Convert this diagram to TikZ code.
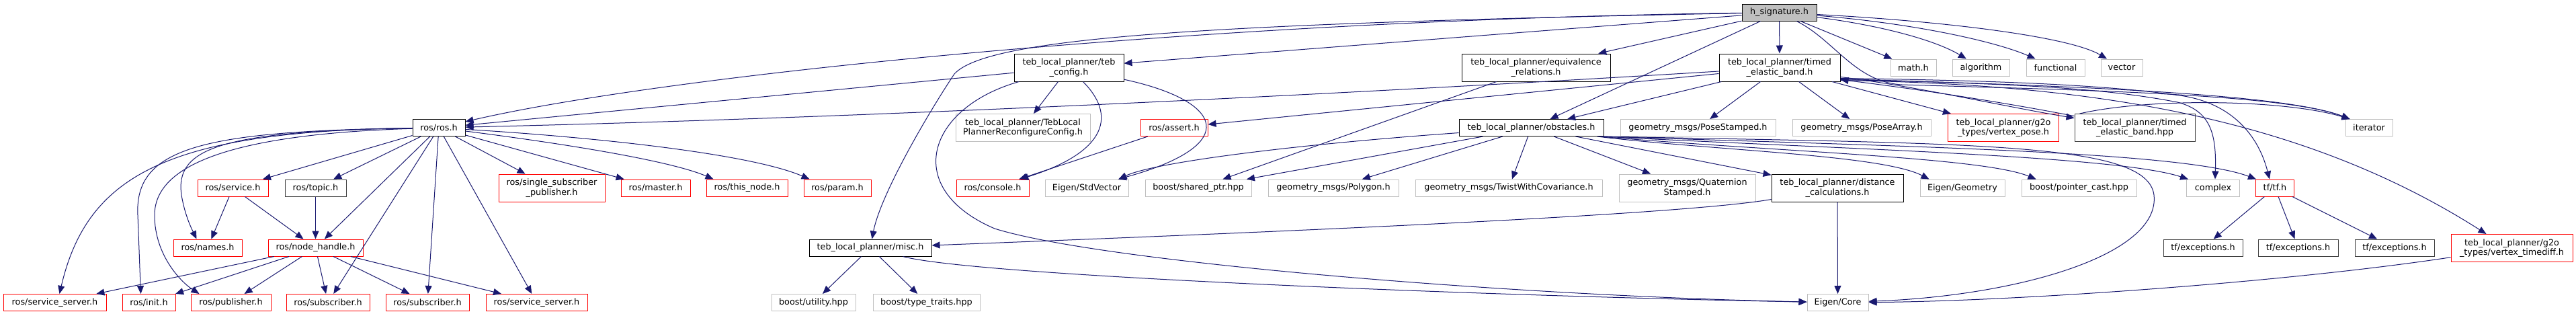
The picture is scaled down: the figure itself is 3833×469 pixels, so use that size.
\documentclass[tikz,border=0pt]{standalone}
\usepackage{fontspec}
\setmainfont{DejaVu Sans}
\usetikzlibrary{arrows.meta}
\definecolor{edgeblue}{HTML}{191970}
\definecolor{greyseventyfive}{HTML}{BFBFBF}
\definecolor{greytwentyfive}{HTML}{404040}
\newcommand\dxfont{\fontsize{12.8}{14.3}\selectfont}
\tikzset{
  nbox/.style={rectangle, draw=black, line width=1pt, fill=white, inner sep=0pt,
    minimum height=25pt, align=center, font=\dxfont, text=black},
  twol/.style={minimum height=41pt},
  gb/.style={draw=greyseventyfive},
  rb/.style={draw=red},
  db/.style={draw=greytwentyfive},
  arr/.style={draw=edgeblue, line width=1pt, -{Triangle[length=12pt,width=10pt]}},
}
\begin{document}
\begin{tikzpicture}[x=1pt,y=-1pt]
\fill[white] (0,0) rectangle (3833,469);
\useasboundingbox (0,0) rectangle (3833,469);

% row 0
\node[nbox, fill=greyseventyfive, minimum width=111pt] (hsig) at (2647.5,18.5) {h\_signature.h};
% row 1
\node[nbox, twol, minimum width=163pt] (tebconfig) at (1590.5,100.5) {teb\_local\_planner/teb\\\_config.h};
\node[nbox, twol, minimum width=221pt] (equiv) at (2285.5,100.5) {teb\_local\_planner/equivalence\\\_relations.h};
\node[nbox, twol, minimum width=180pt] (tebh) at (2648,100.5) {teb\_local\_planner/timed\\\_elastic\_band.h};
\node[nbox, gb, minimum width=68pt] (mathh) at (2847,100.5) {math.h};
\node[nbox, gb, minimum width=85pt] (algo) at (2947.5,100.5) {algorithm};
\node[nbox, gb, minimum width=87pt] (func) at (3058.5,100.5) {functional};
\node[nbox, gb, minimum width=62pt] (vect) at (3157,100.5) {vector};
% row 2
\node[nbox, minimum width=78pt] (ros) at (653,190) {ros/ros.h};
\node[nbox, gb, twol, minimum width=200pt] (reconf) at (1522,190) {teb\_local\_planner/TebLocal\\PlannerReconfigureConfig.h};
\node[nbox, rb, minimum width=100pt] (assert) at (1747,190) {ros/assert.h};
\node[nbox, minimum width=215pt] (obst) at (2278.5,190) {teb\_local\_planner/obstacles.h};
\node[nbox, gb, minimum width=231pt] (posest) at (2526.5,190) {geometry\_msgs/PoseStamped.h};
\node[nbox, gb, minimum width=206pt] (posearr) at (2770,190) {geometry\_msgs/PoseArray.h};
\node[nbox, rb, twol, minimum width=165pt] (vpose) at (2981,190) {teb\_local\_planner/g2o\\\_types/vertex\_pose.h};
\node[nbox, db, twol, minimum width=179pt] (hpp) at (3176.5,190) {teb\_local\_planner/timed\\\_elastic\_band.hpp};
\node[nbox, gb, minimum width=70pt] (iter) at (3525,190) {iterator};
% row 3
\node[nbox, rb, minimum width=105pt] (service) at (346.5,279.5) {ros/service.h};
\node[nbox, db, minimum width=91pt] (topic) at (469.5,279.5) {ros/topic.h};
\node[nbox, rb, twol, minimum width=158pt] (singlesub) at (821,279.5) {ros/single\_subscriber\\\_publisher.h};
\node[nbox, rb, minimum width=103pt] (master) at (975.5,279.5) {ros/master.h};
\node[nbox, rb, minimum width=121pt] (thisnode) at (1111.5,279.5) {ros/this\_node.h};
\node[nbox, rb, minimum width=100pt] (param) at (1246,279.5) {ros/param.h};
\node[nbox, rb, minimum width=108pt] (console) at (1477,279.5) {ros/console.h};
\node[nbox, gb, minimum width=124pt] (stdvec) at (1617,279.5) {Eigen/StdVector};
\node[nbox, gb, minimum width=158pt] (shptr) at (1783,279.5) {boost/shared\_ptr.hpp};
\node[nbox, gb, minimum width=194pt] (polygon) at (1984,279.5) {geometry\_msgs/Polygon.h};
\node[nbox, gb, minimum width=278pt] (twist) at (2245,279.5) {geometry\_msgs/TwistWithCovariance.h};
\node[nbox, gb, twol, minimum width=203pt] (quat) at (2510.5,279.5) {geometry\_msgs/Quaternion\\Stamped.h};
\node[nbox, twol, minimum width=196pt] (distc) at (2734,279.5) {teb\_local\_planner/distance\\\_calculations.h};
\node[nbox, gb, minimum width=126pt] (eigeom) at (2920,279.5) {Eigen/Geometry};
\node[nbox, gb, minimum width=171pt] (ptrcast) at (3093.5,279.5) {boost/pointer\_cast.hpp};
\node[nbox, gb, minimum width=79pt] (complex) at (3293,279.5) {complex};
\node[nbox, rb, minimum width=57pt] (tftf) at (3385,279.5) {tf/tf.h};
% row 4
\node[nbox, rb, minimum width=102pt] (names) at (309,368.5) {ros/names.h};
\node[nbox, rb, minimum width=141pt] (nodeh) at (469.5,368.5) {ros/node\_handle.h};
\node[nbox, minimum width=182pt] (misc) at (1295,368.5) {teb\_local\_planner/misc.h};
\node[nbox, db, minimum width=118pt] (exca) at (3278,368.5) {tf/exceptions.h};
\node[nbox, db, minimum width=119pt] (excb) at (3419.5,368.5) {tf/exceptions.h};
\node[nbox, db, minimum width=118pt] (excc) at (3563,368.5) {tf/exceptions.h};
\node[nbox, rb, twol, minimum width=181pt] (tdiff) at (3737.5,369) {teb\_local\_planner/g2o\\\_types/vertex\_timediff.h};
% row 5
\node[nbox, rb, minimum width=153pt] (ssl) at (81.5,450) {ros/service\_server.h};
\node[nbox, rb, minimum width=79pt] (init) at (221.5,450) {ros/init.h};
\node[nbox, rb, minimum width=119pt] (publ) at (343.5,450) {ros/publisher.h};
\node[nbox, rb, minimum width=124pt] (subl) at (488,450) {ros/subscriber.h};
\node[nbox, rb, minimum width=124pt] (subr) at (636,450) {ros/subscriber.h};
\node[nbox, rb, minimum width=151pt] (ssr) at (798.5,450) {ros/service\_server.h};
\node[nbox, gb, minimum width=125pt] (util) at (1210.5,450) {boost/utility.hpp};
\node[nbox, gb, minimum width=159pt] (ttraits) at (1378.5,450) {boost/type\_traits.hpp};
\node[nbox, gb, minimum width=91pt] (ecore) at (2734.5,450) {Eigen/Core};

% edges from h_signature.h
\draw[arr] (hsig) .. controls (1800,30) and (1000,110) .. (ros);
\draw[arr] (hsig) -- (tebconfig);
\draw[arr] (hsig) -- (equiv);
\draw[arr] (hsig) -- (tebh);
\draw[arr] (hsig) -- (obst);
\draw[arr] (hsig) .. controls (1800,35) and (1470,55) .. (1420,110) .. controls (1380,170) and (1310,290) .. (misc);
\draw[arr] (hsig) -- (mathh);
\draw[arr] (hsig) .. controls (2800,38) and (2880,60) .. (algo);
\draw[arr] (hsig) .. controls (2850,35) and (2970,62) .. (func);
\draw[arr] (hsig) .. controls (2900,32) and (3080,55) .. (vect);
\draw[arr] (hsig) .. controls (2730,60) and (2760,122) .. (2830,126) .. controls (3100,134) and (3400,140) .. ([xshift=7pt]iter.north west);

% teb_config.h
\draw[arr] (tebconfig) -- (ros);
\draw[arr] (tebconfig) -- (reconf);
\draw[arr] (tebconfig) .. controls (1660,170) and (1650,225) .. (console);
\draw[arr] (tebconfig) .. controls (1820,150) and (1850,215) .. (stdvec);
\draw[arr] (tebconfig) .. controls (1380,160) and (1340,280) .. (1480,340) .. controls (1640,390) and (2250,440) .. (ecore);

% equivalence_relations.h
\draw[arr] (equiv) -- (shptr);

% timed_elastic_band.h
\draw[arr] (tebh) .. controls (2000,140) and (1300,175) .. (ros);
\draw[arr] (tebh) -- (assert);
\draw[arr] (tebh) -- (obst);
\draw[arr] (tebh) -- (posest);
\draw[arr] (tebh) -- (posearr);
\draw[arr] (tebh) -- (vpose);
\draw[arr] ([yshift=7pt]tebh.south east) .. controls (2850,128) and (2990,160) .. (hpp);
\draw[arr] (hpp) .. controls (2980,152) and (2850,132) .. ([yshift=3pt]tebh.south east);
\draw[arr] ([yshift=4pt]tebh.south east) .. controls (3100,128) and (3400,140) .. ([xshift=7pt]iter.north west);
\draw[arr] ([yshift=3pt]tebh.south east) .. controls (3050,125) and (3150,135) .. (3240,152) .. controls (3290,165) and (3298,200) .. ([xshift=43pt]complex.north west);
\draw[arr] ([yshift=5pt]tebh.south east) .. controls (3000,120) and (3150,128) .. (3250,143) .. controls (3320,155) and (3360,200) .. ([xshift=21pt]tftf.north west);
\draw[arr] ([yshift=2pt]tebh.south east) .. controls (3100,125) and (3420,170) .. ([xshift=53pt]tdiff.north west);
\draw[arr] ([xshift=8pt]hpp.north west) .. controls (3200,145) and (3400,148) .. ([xshift=7pt]iter.north west);

% ros/ros.h
\draw[arr] (ros) -- (service);
\draw[arr] (ros) -- (topic);
\draw[arr] (ros) -- (singlesub);
\draw[arr] (ros) -- (master);
\draw[arr] (ros) .. controls (850,215) and (1000,240) .. ([xshift=11pt]thisnode.north west);
\draw[arr] (ros) .. controls (900,205) and (1120,230) .. ([xshift=9pt]param.north west);
\draw[arr] (ros) .. controls (330,195) and (260,220) .. (270,290) .. controls (275,320) and (285,340) .. ([xshift=35pt]names.north west);
\draw[arr] (ros) -- (nodeh);
\draw[arr] (ros) .. controls (250,195) and (130,260) .. ([xshift=84pt]ssl.north west);
\draw[arr] (ros) .. controls (300,195) and (200,220) .. (205,320) .. controls (207,370) and (208,400) .. ([xshift=28pt]init.north west);
\draw[arr] (ros) .. controls (330,200) and (230,250) .. (230,320) .. controls (230,380) and (270,420) .. ([xshift=13pt]publ.north west);
\draw[arr] (ros) -- (subl);
\draw[arr] (ros) -- (subr);
\draw[arr] (ros) -- (ssr);

% obstacles.h
\draw[arr] (obst) .. controls (1950,213) and (1720,240) .. ([xshift=110pt]stdvec.north west);
\draw[arr] (obst) -- (shptr);
\draw[arr] (obst) -- (polygon);
\draw[arr] (obst) -- (twist);
\draw[arr] (obst) -- (quat);
\draw[arr] (obst) -- (distc);
\draw[arr] ([xshift=-10pt]obst.south east) .. controls (2550,224) and (2800,230) .. ([xshift=14pt]eigeom.north west);
\draw[arr] ([xshift=-7pt]obst.south east) .. controls (2650,226) and (2950,234) .. ([xshift=22pt]ptrcast.north west);
\draw[arr] ([xshift=-4pt]obst.south east) .. controls (2750,222) and (3150,232) .. ([xshift=3pt]complex.north west);
\draw[arr] ([xshift=-2pt]obst.south east) .. controls (2850,218) and (3250,226) .. ([xshift=1pt]tftf.north west);
\draw[arr] ([xshift=-1pt]obst.south east) .. controls (2950,214) and (3195,212) .. (3205,290) .. controls (3215,380) and (3000,440) .. (ecore);

% others
\draw[arr] (assert) -- (console);
\draw[arr] (service) -- (names);
\draw[arr] (service) -- (nodeh);
\draw[arr] (topic) -- (nodeh);
\foreach \t in {ssl,init,publ,subl,subr,ssr} \draw[arr] (nodeh) -- (\t);
\draw[arr] (distc) .. controls (2500,320) and (1900,345) .. (misc);
\draw[arr] (distc) -- (ecore);
\draw[arr] (misc) -- (util);
\draw[arr] (misc) -- (ttraits);
\draw[arr] (misc) .. controls (1450,410) and (2200,440) .. (ecore);
\draw[arr] (tftf) -- (exca);
\draw[arr] (tftf) -- (excb);
\draw[arr] (tftf) -- (excc);
\draw[arr] (tdiff) .. controls (3400,420) and (3000,448) .. (ecore);
\end{tikzpicture}
\end{document}
